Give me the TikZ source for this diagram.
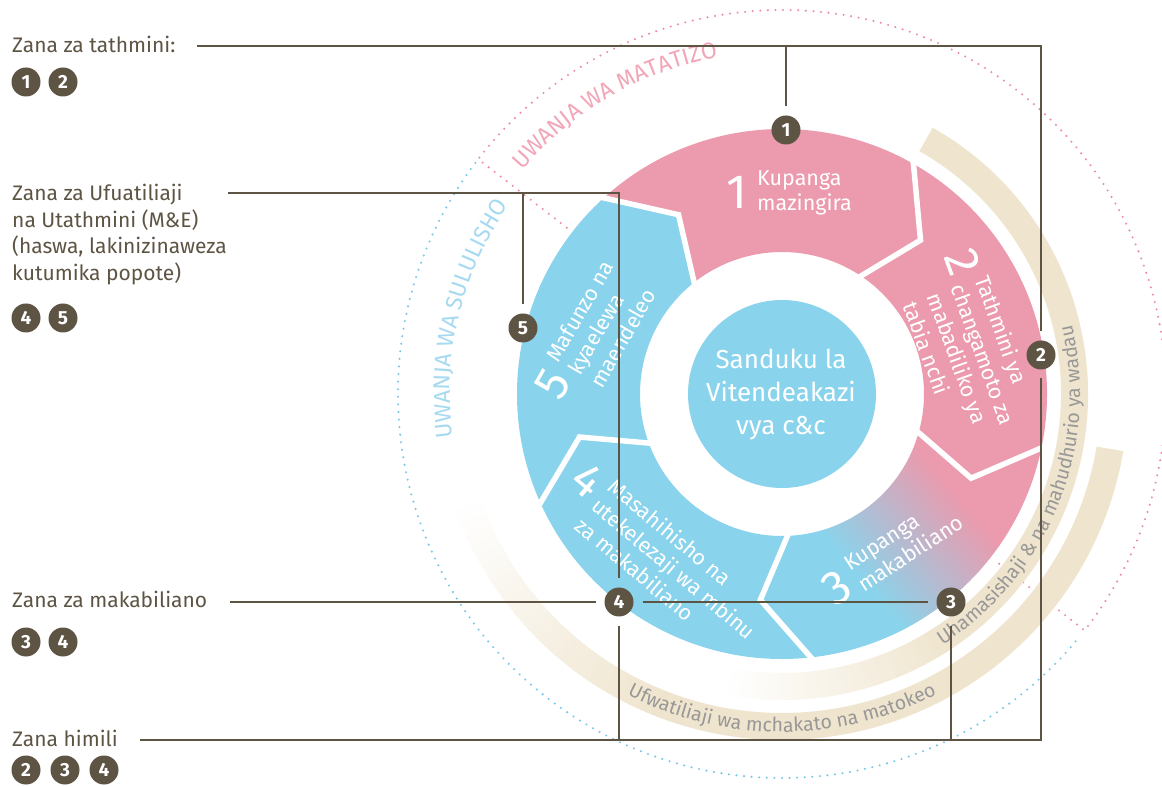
\documentclass[tikz,border=0pt]{standalone}
\usepackage{fontspec}
\setmainfont{Fira Sans}
\usetikzlibrary{decorations.text}
\definecolor{dark}{RGB}{94,84,68}
\definecolor{segpink}{RGB}{236,154,173}
\definecolor{segblue}{RGB}{137,212,236}
\definecolor{beige}{RGB}{239,228,205}
\definecolor{bandgray}{RGB}{152,152,152}
\definecolor{dotpink}{RGB}{236,140,165}
\definecolor{dotblue}{RGB}{120,200,232}
\definecolor{titlepink}{RGB}{242,166,184}
\definecolor{titleblue}{RGB}{166,218,240}
\newcommand\fs[2]{\fontsize{#1}{#2}\selectfont}
\newcommand\segpath[2]{(#1:265) arc[start angle=#1, end angle=#2, radius=265] -- ({#2-13}:207) -- ({#2-4}:142) arc[start angle={#2-4}, end angle={#1-4}, radius=142] -- ({#1-13}:207) -- cycle}
\begin{document}
\begin{tikzpicture}[x=1pt,y=1pt,
  mk/.style={circle, fill=dark, text=white, font=\bfseries\fs{19}{19}, minimum size=29pt, inner sep=0pt},
  rmk/.style={mk, outer sep=9pt},
  conn/.style={draw=dark, line width=2.5pt},
  lab/.style={text=dark, font=\fs{21}{26.5}, inner sep=0pt},
  dig/.style={text=white, font=\fs{48}{48}, inner sep=0pt, transform shape},
  segtxt/.style={text=white, font=\fs{21.5}{25.5}, align=left, inner sep=0pt, anchor=north west, transform shape},
  dotline/.style={line width=2.3pt, line cap=round, dash pattern=on 0pt off 7.6pt}
]
\fill[white] (0,0) rectangle (1162,785);
\useasboundingbox (0,0) rectangle (1162,785);

\begin{scope}[shift={(782,391)}]
  % dotted fields
  \draw[dotline, dotblue] (143:384) arc[start angle=143, end angle=320, radius=384];
  \draw[dotline, dotpink] (142.3:272) -- (142.3:384) arc[start angle=142.3, end angle=-38, radius=384] -- (-38:272);
  % band A
  \fill[beige] (60.5:306) arc[start angle=60.5, end angle=-55, radius=306] -- (-55:279) arc[start angle=-55, end angle=60.5, radius=279] -- cycle;
  \foreach \i in {0,...,44}{
    \pgfmathsetmacro\angA{-55-\i}
    \pgfmathsetmacro\angB{-56.3-\i}
    \pgfmathsetmacro\pct{100-\i*100/45}
    \fill[beige!\pct!white] (\angA:306) arc[start angle=\angA, end angle=\angB, radius=306] -- (\angB:279) arc[start angle=\angB, end angle=\angA, radius=279] -- cycle;
  }
  % band B
  \fill[beige] (-9.5:346) arc[start angle=-9.5, end angle=-110, radius=346] -- (-110:319) arc[start angle=-110, end angle=-9.5, radius=319] -- cycle;
  \foreach \i in {0,...,49}{
    \pgfmathsetmacro\angA{-110-\i}
    \pgfmathsetmacro\angB{-111.3-\i}
    \pgfmathsetmacro\pct{100-\i*2}
    \fill[beige!\pct!white] (\angA:346) arc[start angle=\angA, end angle=\angB, radius=346] -- (\angB:319) arc[start angle=\angB, end angle=\angA, radius=319] -- cycle;
  }
  % texts along arcs
  \path[decorate, decoration={text along path, text align=center, text color=bandgray, text={|\fs{19.5}{19.5}|Uhamasishaji {\&} na mahudhurio ya wadau}}] (-72:298) arc[start angle=-72, end angle=28, radius=298];
  \path[decorate, decoration={text along path, text align=center, text color=bandgray, text={|\fs{19.5}{19.5}|Ufwatiliaji wa mchakato na matokeo}}] (225:338) arc[start angle=225, end angle=315, radius=338];
  \path[decorate, decoration={text along path, text align=center, text color=titlepink, text={|\fs{23}{23}|UWANJA WA MATATIZO}}] (150:343) arc[start angle=150, end angle=90, radius=343];
  \path[decorate, decoration={text along path, text align=center, text color=titleblue, text={|\fs{23}{23}|UWANJA WA SULULISHO}}] (196.5:332) arc[start angle=196.5, end angle=136.5, radius=332];
  % segments
  \fill[segpink] \segpath{133}{61};
  \fill[segpink] \segpath{61}{-11};
  \fill[segblue] \segpath{-83}{-155};
  \fill[segblue] \segpath{205}{133};
\end{scope}

% segment 3 with gradient
\begin{scope}
  \clip[shift={(782,391)}] \segpath{-11}{-83};
  \begin{scope}[transform canvas={rotate around={40:(907,250)}}]
    \fill[segblue] (300,-300) rectangle (843,800);
    \shade[left color=segblue, right color=segpink] (842,-300) rectangle (972,800);
    \fill[segpink] (971,-300) rectangle (1500,800);
  \end{scope}
\end{scope}

\begin{scope}[shift={(782,391)}]
  \foreach \b in {133,61,-11,-83,205}
    \draw[white, line width=5.5pt] (\b:270) -- ({\b-13}:207) -- ({\b-4}:138);
  \fill[segblue] (0,0) circle[radius=94];
\end{scope}

% segment labels
\begin{scope}[shift={(737,593)}]
  \node[dig] (d1) at (0,0) {1};
  \node[segtxt] (s1) at (20,22) {Kupanga\\mazingira};
\end{scope}
\begin{scope}[shift={(963,523)}, rotate=-70]
  \node[dig] (d2) at (0,0) {2};
  \node[segtxt] (s2) at (20,22) {Tathmini ya\\changamoto za\\mabadiliko ya\\tabia nchi};
\end{scope}
\begin{scope}[shift={(837,197)}, rotate=33]
  \node[dig] (d3) at (0,0) {3};
  \node[segtxt] (s3) at (20,22) {Kupanga\\makabiliano};
\end{scope}
\begin{scope}[shift={(588,305)}, rotate=-40]
  \node[dig] (d4) at (0,0) {4};
  \node[segtxt] (s4) at (20,22) {Masahihisho na\\utekelezaji wa mbinu\\za makabiliano};
\end{scope}
\begin{scope}[shift={(553,401)}, rotate=60]
  \node[dig] (d5) at (0,0) {5};
  \node[segtxt] (s5) at (20,22) {Mafunzo na\\kyaelewa\\maendeleo};
\end{scope}

\node[text=white, font=\fs{26}{33}, align=center, inner sep=0pt] (ctr) at (781,390) {Sanduku la\\Vitendeakazi\\vya c\&c};

% ring markers
\node[rmk] (m1) at (786,655) {1};
\node[rmk] (m2) at (1041,430) {2};
\node[rmk] (m3) at (951,183) {3};
\node[rmk] (m4) at (619,183) {4};
\node[rmk] (m5) at (523,457) {5};

% left labels
\node[lab, anchor=base west] (L1) at (12,732) {Zana za tathmini:};
\node[mk] (a1) at (26,703) {1};
\node[mk] (a2) at (63,703) {2};
\node[lab, anchor=north west, align=left] (L2) at (12,601) {Zana za Ufuatiliaji\\na Utathmini (M\&E)\\(haswa, lakinizinaweza\\kutumika popote)};
\node[mk] (b4) at (26,467) {4};
\node[mk] (b5) at (63,467) {5};
\node[lab, anchor=base west] (L3) at (12,177) {Zana za makabiliano};
\node[mk] (c3) at (26,143) {3};
\node[mk] (c4) at (63,143) {4};
\node[lab, anchor=base west] (L4) at (12,39) {Zana himili};
\node[mk] (e2) at (26,15) {2};
\node[mk] (e3) at (65,15) {3};
\node[mk] (e4) at (104,15) {4};

% connectors
\coordinate (t0) at (197,739);
\coordinate (f0) at (228,592);
\coordinate (k0) at (230,183);
\coordinate (h0) at (140,45);
\draw[conn] (t0) -| (m2);
\draw[conn] (m1) -- (m1 |- t0);
\draw[conn] (f0) -| (m4);
\draw[conn] (m5) -- (m5 |- f0);
\draw[conn] (k0) -- (m4);
\draw[conn] (m4) -- (m3);
\draw[conn] (h0) -| (m2);
\draw[conn] (m4) -- (m4 |- h0);
\draw[conn] (m3) -- (m3 |- h0);
\end{tikzpicture}
\end{document}
